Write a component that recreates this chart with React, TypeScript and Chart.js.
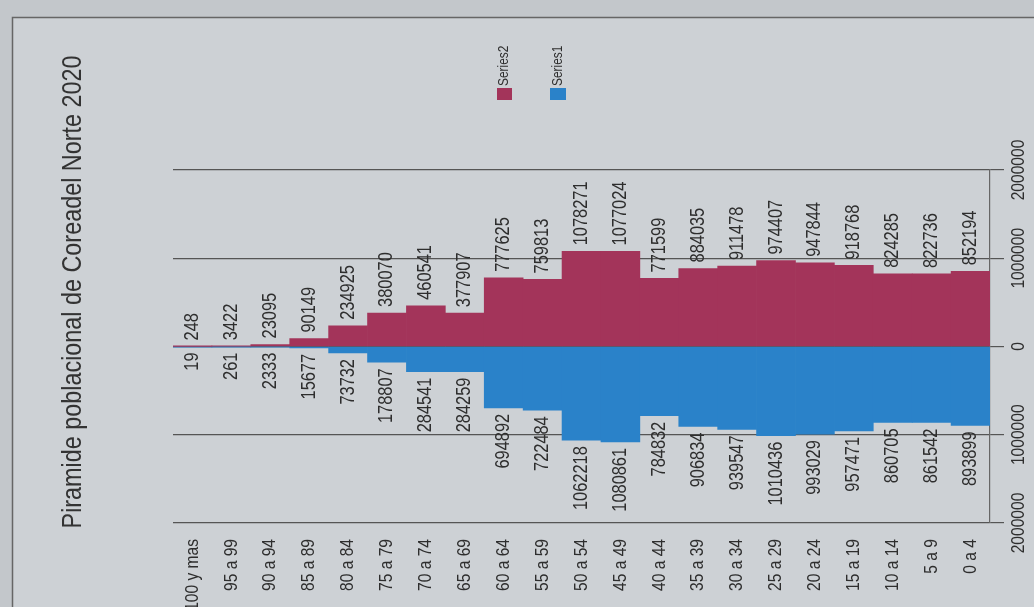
import React, { useEffect, useRef } from "react";
import { Chart, registerables } from "chart.js";
Chart.register(...registerables);

const categories = [
  "100 y mas", "95 a 99", "90 a 94", "85 a 89", "80 a 84", "75 a 79", "70 a 74",
  "65 a 69", "60 a 64", "55 a 59", "50 a 54", "45 a 49", "40 a 44", "35 a 39",
  "30 a 34", "25 a 29", "20 a 24", "15 a 19", "10 a 14", "5 a 9", "0 a 4",
];
const series2Values = [
  248, 3422, 23095, 90149, 234925, 380070, 460541, 377907, 777625, 759813,
  1078271, 1077024, 771599, 884035, 911478, 974407, 947844, 918768, 824285, 822736, 852194,
];
const series1Values = [
  19, 261, 2333, 15677, 73732, 178807, 284541, 284259, 694892, 722484,
  1062218, 1080861, 784832, 906834, 939547, 1010436, 993029, 957471, 860705, 861542, 893899,
];
const valueTicks = [2000000, 1000000, 0, -1000000, -2000000];
const valueTickLabels = ["2000000", "1000000", "0", "1000000", "2000000"];
const seriesNames = ["Series2", "Series1"];
const titleText = "Piramide poblacional de Coreadel Norte 2020";

const RED = "#a3345a";
const BLUE = "#2a82c9";
const FONT = '"Liberation Sans", Arial, sans-serif';
const TEXT = "#2e2e2e";
const NARROW = 0.82;

function rotText(ctx: CanvasRenderingContext2D, text: string, x: number, y: number, align: CanvasTextAlign, baseline: CanvasTextBaseline) {
  ctx.save();
  ctx.translate(x, y);
  ctx.rotate(-Math.PI / 2);
  ctx.scale(NARROW, 1);
  ctx.textAlign = align;
  ctx.textBaseline = baseline;
  ctx.fillText(text, 0, 0);
  ctx.restore();
}

const decorPlugin = {
  id: "decor",
  beforeDraw(chart: any) {
    const ctx = chart.ctx as CanvasRenderingContext2D;
    ctx.save();
    ctx.fillStyle = "#c3c7cb";
    ctx.fillRect(0, 0, chart.width, chart.height);
    ctx.fillStyle = "#cdd1d5";
    ctx.fillRect(12, 17, chart.width - 12, chart.height - 17);
    ctx.strokeStyle = "#666";
    ctx.lineWidth = 1.5;
    ctx.beginPath();
    ctx.moveTo(12.5, chart.height);
    ctx.lineTo(12.5, 17.5);
    ctx.lineTo(chart.width, 17.5);
    ctx.stroke();
    ctx.restore();
  },
  afterDatasetsDraw(chart: any) {
    const ctx = chart.ctx as CanvasRenderingContext2D;
    ctx.save();
    ctx.fillStyle = TEXT;
    ctx.font = `20px ${FONT}`;
    const m0 = chart.getDatasetMeta(0);
    const m1 = chart.getDatasetMeta(1);
    m0.data.forEach((bar: any, i: number) => {
      rotText(ctx, String(series2Values[i]), bar.x, bar.y - 6, "left", "middle");
    });
    m1.data.forEach((bar: any, i: number) => {
      rotText(ctx, String(series1Values[i]), bar.x, bar.y + 6, "right", "middle");
    });
    ctx.restore();
  },
  afterDraw(chart: any) {
    const ctx = chart.ctx as CanvasRenderingContext2D;
    ctx.save();
    // title
    ctx.fillStyle = "#333";
    ctx.font = `28.5px ${FONT}`;
    rotText(ctx, titleText, 81, 292, "center", "alphabetic");
    // legend
    ctx.font = `14.5px ${FONT}`;
    ctx.fillStyle = RED;
    ctx.fillRect(497, 88, 15, 12);
    ctx.fillStyle = BLUE;
    ctx.fillRect(550, 88, 16, 12);
    ctx.fillStyle = TEXT;
    rotText(ctx, seriesNames[0], 504, 86, "left", "middle");
    rotText(ctx, seriesNames[1], 558, 86, "left", "middle");
    // category labels
    const x = chart.scales.x;
    ctx.font = `19px ${FONT}`;
    categories.forEach((c, i) => {
      rotText(ctx, c, x.getPixelForValue(i), 539, "right", "middle");
    });
    // value axis labels
    const y = chart.scales.y;
    ctx.font = `19px ${FONT}`;
    valueTicks.forEach((v, i) => {
      rotText(ctx, valueTickLabels[i], 1019, y.getPixelForValue(v), "center", "middle");
    });
    ctx.restore();
  },
};

export default function App() {
  const ref = useRef<HTMLCanvasElement | null>(null);
  useEffect(() => {
    if (!ref.current) return;
    const chart = new Chart(ref.current, {
      type: "bar",
      data: {
        labels: categories,
        datasets: [
          { label: seriesNames[0], data: series2Values, backgroundColor: RED, borderWidth: 0, barPercentage: 1, categoryPercentage: 1 },
          { label: seriesNames[1], data: series1Values.map((v) => -v), backgroundColor: BLUE, borderWidth: 0, barPercentage: 1, categoryPercentage: 1 },
        ],
      },
      options: {
        animation: false,
        responsive: false,
        layout: { padding: { left: 173, top: 170, right: 0, bottom: 0 } },
        plugins: { legend: { display: false }, title: { display: false }, tooltip: { enabled: false } },
        scales: {
          x: {
            stacked: true,
            grid: { display: false },
            border: { display: false },
            ticks: { display: false },
            afterFit: (s: any) => { s.height = 84; },
          },
          y: {
            stacked: true,
            position: "right",
            min: -2000000,
            max: 2000000,
            ticks: { stepSize: 1000000, display: false },
            grid: { color: "#555", lineWidth: 1.2, drawTicks: true, tickLength: 14 },
            border: { display: true, color: "#666", width: 1.2 },
            afterFit: (s: any) => { s.width = 44; },
          },
        },
      },
      plugins: [decorPlugin],
    });
    return () => chart.destroy();
  }, []);
  return (
    <canvas ref={ref} width={1034} height={607} style={{ position: "fixed", left: 0, top: 0, width: 1034, height: 607 }} />
  );
}
